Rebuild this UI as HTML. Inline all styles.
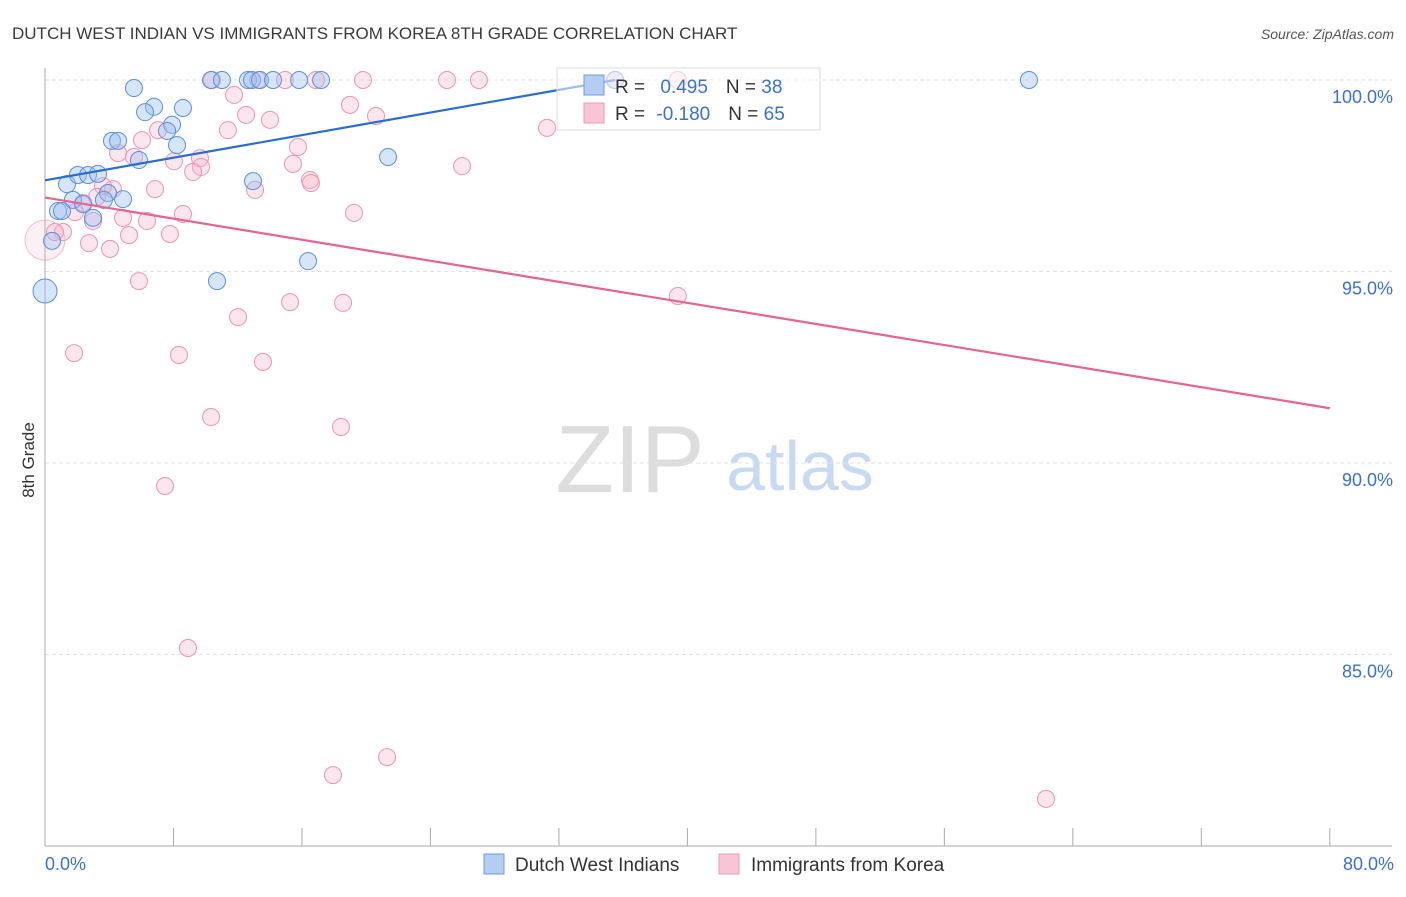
<!DOCTYPE html>
<html><head><meta charset="utf-8"><style>
body{margin:0;background:#fff;font-family:"Liberation Sans",sans-serif}
svg text{font-family:"Liberation Sans",sans-serif}
</style></head><body>
<svg id="c" width="1406" height="892" xmlns="http://www.w3.org/2000/svg">
<text x="12" y="39" font-size="17" fill="#3a3a3a">DUTCH WEST INDIAN VS IMMIGRANTS FROM KOREA 8TH GRADE CORRELATION CHART</text>
<text x="1394" y="39" font-size="14" fill="#555" font-style="italic" text-anchor="end">Source: ZipAtlas.com</text>
<text x="34" y="460" font-size="17" fill="#333" text-anchor="middle" transform="rotate(-90 34 460)">8th Grade</text>
<text x="630" y="492" font-size="96" fill="#ddd" font-family="Liberation Serif" text-anchor="middle">ZIP</text>
<text x="800" y="490" font-size="70" fill="#c8daf2" text-anchor="middle">atlas</text>
<g id="grid"></g><g id="pts"></g><g id="lines"></g>
<g>
<rect x="557" y="68" width="263" height="62" fill="#fff" fill-opacity="0.55" stroke="#ddd"/>
<rect x="584" y="75" width="20" height="20" fill="#b5cdf2" stroke="#6e9be0"/>
<rect x="584" y="103" width="20" height="20" fill="#f9c5d6" stroke="#ee9ab5"/>
<text x="615" y="93" font-size="19" fill="#333">R = <tspan fill="#3a70d0" dx="10">0.495</tspan><tspan fill="#333" dx="18">N = </tspan><tspan fill="#3a70d0">38</tspan></text>
<text x="615" y="120" font-size="19" fill="#333">R = <tspan fill="#3a70d0" dx="6">-0.180</tspan><tspan fill="#333" dx="18">N = </tspan><tspan fill="#3a70d0">65</tspan></text>
</g>
<g>
<rect x="484" y="854" width="20" height="20" fill="#b5cdf2" stroke="#6e9be0"/>
<text x="515" y="871" font-size="19" fill="#333">Dutch West Indians</text>
<rect x="719" y="854" width="20" height="20" fill="#f9c5d6" stroke="#ee9ab5"/>
<text x="751" y="871" font-size="19" fill="#333">Immigrants from Korea</text>
</g>
</svg>
<script>
const yTicks=[100,95,90,85];
const xTickLabels=["0.0%","80.0%"];
const blueX=[5.54,6.79,8.59,6.23,7.91,7.60,4.17,4.55,8.22,5.85,21.36,1.37,2.05,2.68,3.30,12.95,4.86,3.92,3.67,1.74,2.37,0.81,1.06,2.99,0.44,16.38,10.71,0,10.34,11.02,12.64,12.89,13.39,14.20,15.82,17.19,61.27,35.5];
const blueY=[99.79,99.30,99.27,99.16,98.83,98.67,98.41,98.41,98.30,97.91,97.99,97.28,97.52,97.52,97.55,97.36,96.89,97.05,96.87,96.87,96.76,96.58,96.58,96.40,95.80,95.27,94.75,94.49,100,100,100,100,100,100,100,100,100,100];
const pinkX=[0,10.4,13.26,14.94,16.87,19.8,25.03,27.02,35.5,39.4,11.77,18.99,12.52,20.61,14.01,11.39,31.26,7.04,6.04,15.75,4.55,9.65,8.03,5.54,15.44,9.71,25.97,9.22,16.5,16.56,13.08,6.85,4.23,3.61,3.24,2.37,1.87,8.59,19.24,4.86,6.35,2.99,1.12,5.23,7.78,2.74,4.05,0.62,5.85,15.26,18.56,39.4,12.02,1.81,8.34,13.57,10.34,18.43,7.47,8.9,17.93,21.3,62.33];
const pinkY=[95.82,100,100,100,100,100,100,100,100,100,99.61,99.35,99.09,99.06,98.96,98.69,98.75,98.69,98.43,98.25,98.09,97.96,97.88,97.99,97.81,97.73,97.75,97.6,97.39,97.31,97.13,97.15,97.15,97.23,96.95,96.79,96.55,96.5,96.53,96.4,96.32,96.32,96.03,95.95,95.98,95.74,95.59,96.03,94.75,94.2,94.18,94.36,93.81,92.87,92.82,92.64,91.2,90.94,89.4,85.17,81.85,82.32,81.23];
const blueTrend=[[0,97.38],[35.5,100.0]];
const pinkTrend=[[0,96.93],[80,91.43]];
const NS="http://www.w3.org/2000/svg";
const X=p=>45+p*16.06, Y=v=>80+(100-v)*38.3;
function mk(t,a,parent){const e=document.createElementNS(NS,t);for(const k in a)e.setAttribute(k,a[k]);document.getElementById(parent).appendChild(e);return e;}
yTicks.forEach(v=>{
const l=mk('line',{x1:45,x2:1392,y1:Y(v),y2:Y(v),stroke:'#e2e2e2','stroke-dasharray':'4,3'},'grid');


const t=mk('text',{x:1393,y:Y(v)+23,'font-size':18,fill:'#3a70d0','text-anchor':'end'},'grid');t.textContent=v.toFixed(1)+'%';


});
const ax=mk('line',{x1:45,x2:45,y1:68,y2:846,stroke:'#aaa'},'grid');


const bx=mk('line',{x1:45,x2:1392,y1:846,y2:846,stroke:'#aaa'},'grid');


for(let i=0;i<=10;i++){const t=mk('line',{x1:X(i*8),x2:X(i*8),y1:828,y2:846,stroke:'#aaa'},'grid');

}
[[0,'start',45],[80,'end',1394]].forEach((d,i)=>{const t=mk('text',{x:d[2],y:870,'font-size':18,fill:'#3a70d0','text-anchor':d[1]},'grid');t.textContent=xTickLabels[i];

});
pinkX.forEach((p,i)=>{const c=mk('circle',{cx:X(p),cy:Y(pinkY[i]),r:i==0?20:8.5,fill:'#f7b6cb','fill-opacity':i==0?0.2:0.35,stroke:'#ee93b1','stroke-width':1,'stroke-opacity':i==0?0.6:1},'pts');

});
blueX.forEach((p,i)=>{const c=mk('circle',{cx:X(p),cy:Y(blueY[i]),r:i==27?12:8.5,fill:'#9cbff0','fill-opacity':0.4,stroke:'#5a8fe0','stroke-width':1},'pts');

});
const bl=mk('line',{x1:X(blueTrend[0][0]),y1:Y(blueTrend[0][1]),x2:X(blueTrend[1][0]),y2:Y(blueTrend[1][1]),stroke:'#2a6cd6','stroke-width':2.2},'lines');


const pl=mk('line',{x1:X(pinkTrend[0][0]),y1:Y(pinkTrend[0][1]),x2:X(pinkTrend[1][0]),y2:Y(pinkTrend[1][1]),stroke:'#e8638f','stroke-width':2.2},'lines');


</script>
</body></html>
